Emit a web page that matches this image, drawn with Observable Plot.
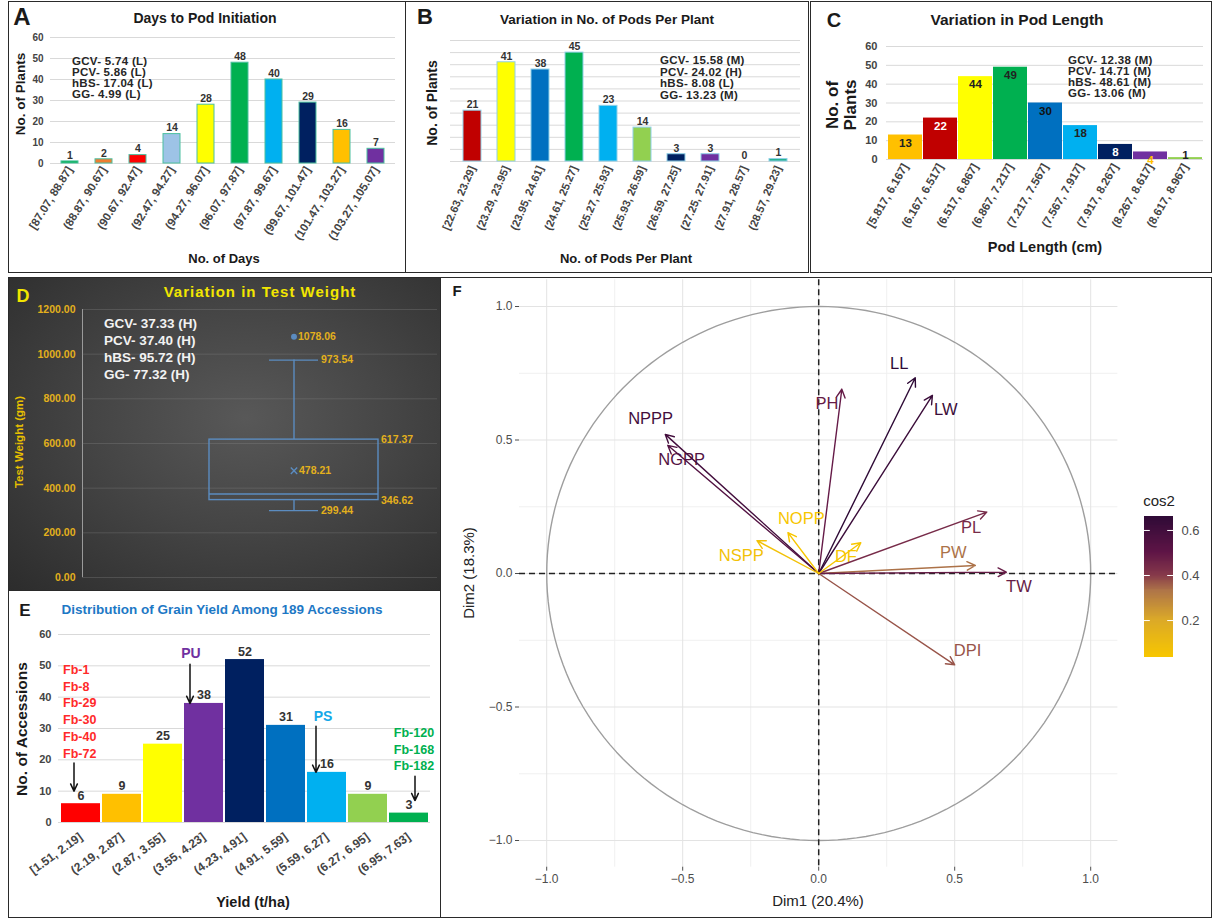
<!DOCTYPE html>
<html><head><meta charset="utf-8">
<script src="https://cdn.jsdelivr.net/npm/d3@7"></script>
<script src="https://cdn.jsdelivr.net/npm/@observablehq/plot@0.6"></script>
<style>
body{margin:0;background:#fff;font-family:"Liberation Sans",Arial,sans-serif;}
#fig{position:relative;width:1213px;height:919px;overflow:hidden;background:#fff;}
.abs{position:absolute;white-space:nowrap;}
.box{position:absolute;box-sizing:border-box;border:1.5px solid #2a2a2a;}
</style></head><body><div id="fig"></div><script>
const FONT = "Liberation Sans, Arial, sans-serif";

// ---------- Panel A data ----------
const aBins = ["[87.07, 88.87]","(88.87, 90.67]","(90.67, 92.47]","(92.47, 94.27]","(94.27, 96.07]","(96.07, 97.87]","(97.87, 99.67]","(99.67, 101.47]","(101.47, 103.27]","(103.27, 105.07]"];
const aCounts = [1,2,4,14,28,48,40,29,16,7];
const aColors = ["#00B050","#ED7D31","#FF0000","#9DC3E6","#FFFF00","#00B050","#00B0F0","#002060","#FFC000","#7030A0"];
const aYTicks = [0,10,20,30,40,50,60];
const aStats = ["GCV- 5.74 (L)","PCV-  5.86 (L)","hBS- 17.04 (L)","GG- 4.99 (L)"];

// ---------- Panel B data ----------
const bBins = ["[22.63, 23.29]","(23.29, 23.95]","(23.95, 24.61]","(24.61, 25.27]","(25.27, 25.93]","(25.93, 26.59]","(26.59, 27.25]","(27.25, 27.91]","(27.91, 28.57]","(28.57, 29.23]"];
const bCounts = [21,41,38,45,23,14,3,3,0,1];
const bColors = ["#C00000","#FFFF00","#0070C0","#00B050","#00B0F0","#92D050","#002060","#7030A0","#FFFFFF","#1FAE8A"];
const bGrid = [0,5,10,15,20,25,30,35,40,45,50];
const bStats = ["GCV- 15.58 (M)","PCV-  24.02 (H)","hBS- 8.08 (L)","GG- 13.23 (M)"];

// ---------- Panel C data ----------
const cBins = ["[5.817, 6.167]","(6.167, 6.517]","(6.517, 6.867]","(6.867, 7.217]","(7.217, 7.567]","(7.567, 7.917]","(7.917, 8.267]","(8.267, 8.617]","(8.617, 8.967]"];
const cCounts = [13,22,44,49,30,18,8,4,1];
const cColors = ["#FFC000","#C00000","#FFFF00","#00B050","#0070C0","#00B0F0","#002060","#7030A0","#92D050"];
const cLabelColors = ["#222","#fff","#222","#222","#111","#222","#fff","#FFC000","#222"];
const cYTicks = [0,10,20,30,40,50,60];
const cStats = ["GCV- 12.38 (M)","PCV-  14.71 (M)","hBS- 48.61 (M)","GG- 13.06 (M)"];

// ---------- Panel D data ----------
const twName = "Test Weight";
const twMin = 299.44, twQ1 = 346.62, twMedian = 374, twQ3 = 617.37, twMax = 973.54, twMean = 478.21;
const twOutliers = [1078.06];
const dYTicks = [0,200,400,600,800,1000,1200];
const dStats = ["GCV- 37.33 (H)","PCV-  37.40 (H)","hBS- 95.72 (H)","GG- 77.32 (H)"];

// ---------- Panel E data ----------
const eBins = ["[1.51, 2.19]","(2.19, 2.87]","(2.87, 3.55]","(3.55, 4.23]","(4.23, 4.91]","(4.91, 5.59]","(5.59, 6.27]","(6.27, 6.95]","(6.95, 7.63]"];
const eCounts = [6,9,25,38,52,31,16,9,3];
const eColors = ["#FF0000","#FFC000","#FFFF00","#7030A0","#002060","#0070C0","#00B0F0","#92D050","#00B050"];
const eYTicks = [0,10,20,30,40,50,60];
const eLowAcc = ["Fb-1","Fb-8","Fb-29","Fb-30","Fb-40","Fb-72"];
const eHighAcc = ["Fb-120","Fb-168","Fb-182"];
const eArrowBins = ["[1.51, 2.19]","(3.55, 4.23]","(5.59, 6.27]","(6.95, 7.63]"];
const eArrowFrom = [19, 50.5, 30.7, 14.8];
const eArrowTo = [10, 38, 16, 7];

// ---------- Panel F data ----------
const fVars = ["NPPP","NGPP","PH","LL","LW","PL","PW","TW","DPI","NOPP","NSPP","DF"];
const fDim1 = [-0.564,-0.555,0.085,0.355,0.418,0.618,0.576,0.690,0.500,-0.113,-0.227,0.155];
const fDim2 = [0.521,0.480,0.690,0.733,0.667,0.230,0.030,0.005,-0.342,0.153,0.123,0.115];
const fLabelDim1 = [-0.618,-0.504,0.030,0.296,0.467,0.560,0.495,0.736,0.547,-0.064,-0.285,0.100];
const fLabelDim2 = [0.578,0.426,0.636,0.785,0.613,0.173,0.077,-0.049,-0.288,0.204,0.066,0.061];
const fMajor = [-1,-0.5,0,0.5,1];
const fMinor = [-0.75,-0.25,0.25,0.75];
const legendTicks = [0.2,0.4,0.6];

// ================= helpers =================
const fig = document.getElementById("fig");
function place(node, left, top, w, h){
  const d = document.createElement("div");
  d.className = "abs";
  Object.assign(d.style,{left:left+"px",top:top+"px",width:w+"px",height:h+"px"});
  d.appendChild(node); fig.appendChild(d); return d;
}
function txt(s, x, y, o={}){
  const d = document.createElement("div");
  d.className = "abs"; d.textContent = s;
  const tx = o.anchor==="start" ? "0" : (o.anchor==="end" ? "-100%" : "-50%");
  Object.assign(d.style,{left:x+"px",top:y+"px",fontSize:(o.size||12)+"px",
    fontWeight:o.weight||"bold",color:o.color||"#1a1a1a",lineHeight:"1",
    letterSpacing:o.ls||"normal",fontFamily:FONT,
    transform:`translate(${tx},-50%)`+(o.rotate?` rotate(${o.rotate}deg)`:"")});
  if (o.rotate) d.style.transformOrigin = "50% 50%";
  fig.appendChild(d); return d;
}
function box(l,t,w,h,extra={}){
  const d=document.createElement("div"); d.className="box";
  Object.assign(d.style,{left:l+"px",top:t+"px",width:w+"px",height:h+"px"},extra);
  fig.appendChild(d); return d;
}
const baseStyle = {background:"transparent",fontFamily:FONT,overflow:"visible"};

// ================= Panel A =================
const aTable = aBins.map((bin,i)=>({bin,count:aCounts[i],color:aColors[i]}));
place(Plot.plot({
  width:397,height:272,marginLeft:42,marginRight:10,marginTop:37,marginBottom:109,
  style:baseStyle,
  x:{domain:aBins,paddingInner:0.5,paddingOuter:0.3,label:null},
  y:{domain:[0,60],label:null},
  color:{type:"identity"},
  marks:[
    Plot.gridY(aYTicks,{stroke:"#d9d9d9",strokeOpacity:1}),
    Plot.barY(aTable,{x:"bin",y:"count",fill:"color",stroke:"#4cc0a0",strokeWidth:1}),
    Plot.text(aTable,{x:"bin",y:"count",text:d=>String(d.count),dy:-6,fontWeight:"bold",fontSize:10.5,fill:"#333"}),
    Plot.axisY(aYTicks,{tickSize:0,tickPadding:7,fontWeight:"bold",fontSize:10,color:"#444",label:null}),
    Plot.axisX({tickSize:0,tickPadding:4,tickRotate:-58,fontWeight:"bold",fontSize:11.5,color:"#444",label:null})
  ]
}),8,0,397,272);
txt("A",22,17,{size:24});
txt("Days to Pod Initiation",205,18,{size:14});
aStats.forEach((s,i)=>txt(s,72,62+i*11,{size:11.5,anchor:"start",color:"#262626",ls:"0.3px"}));
txt("No. of Plants",21,94,{size:13.5,rotate:-90});
txt("No. of Days",224,258,{size:13});

// ================= Panel B =================
const bTable = bBins.map((bin,i)=>({bin,count:bCounts[i],color:bColors[i]}));
place(Plot.plot({
  width:403,height:272,marginLeft:45,marginRight:8,marginTop:40,marginBottom:111,
  style:baseStyle,
  x:{domain:bBins,paddingInner:0.48,paddingOuter:0.27,label:null},
  y:{domain:[0,50],label:null,axis:null},
  color:{type:"identity"},
  marks:[
    Plot.gridY(bGrid,{stroke:"#d9d9d9",strokeOpacity:1}),
    Plot.barY(bTable.filter(d=>d.count>0),{x:"bin",y:"count",fill:"color",stroke:"#8fd0e8",strokeWidth:1}),
    Plot.text(bTable,{x:"bin",y:"count",text:d=>String(d.count),dy:-6,fontWeight:"bold",fontSize:10.5,fill:"#333"}),
    Plot.axisX({tickSize:0,tickPadding:5,tickRotate:-67,fontWeight:"bold",fontSize:11,color:"#444",label:null})
  ]
}),405,0,403,272);
txt("B",425,17,{size:22});
txt("Variation in No. of Pods Per Plant",607,20,{size:13.5});
bStats.forEach((s,i)=>txt(s,660,61+i*11.5,{size:11.5,anchor:"start",color:"#262626",ls:"0.3px"}));
txt("No. of Plants",432,103,{size:14,rotate:-90});
txt("No. of Pods Per Plant",626,258,{size:13});

// ================= Panel C =================
const cTable = cBins.map((bin,i)=>({bin,count:cCounts[i],color:cColors[i],lc:cLabelColors[i]}));
place(Plot.plot({
  width:405,height:272,marginLeft:78,marginRight:10,marginTop:46,marginBottom:113,
  style:baseStyle,
  x:{domain:cBins,paddingInner:0.03,paddingOuter:0,label:null},
  y:{domain:[0,60],label:null},
  color:{type:"identity"},
  marks:[
    Plot.gridY(cYTicks,{stroke:"#d9d9d9",strokeOpacity:1}),
    Plot.barY(cTable,{x:"bin",y:"count",fill:"color"}),
    Plot.text(cTable.filter(d=>d.count>=4),{x:"bin",y:"count",text:d=>String(d.count),dy:8,fontWeight:"bold",fontSize:11.5,fill:"lc"}),
    Plot.text(cTable.filter(d=>d.count<4),{x:"bin",y:"count",text:d=>String(d.count),dy:-2,fontWeight:"bold",fontSize:11.5,fill:"lc"}),
    Plot.axisY(cYTicks,{tickSize:0,tickPadding:9,fontWeight:"bold",fontSize:11,color:"#444",label:null}),
    Plot.axisX({tickSize:0,tickPadding:5,tickRotate:-60,fontWeight:"bold",fontSize:11.5,color:"#444",label:null})
  ]
}),808,0,405,272);
txt("C",834,20,{size:20});
txt("Variation in Pod Length",1017,20,{size:15.5});
cStats.forEach((s,i)=>txt(s,1068,61+i*11,{size:11.5,anchor:"start",color:"#262626",ls:"0.3px"}));
txt("No. of",832,105,{size:17,rotate:-90});
txt("Plants",850,105,{size:17,rotate:-90});
txt("Pod Length (cm)",1045,247,{size:14.5});

// ================= Panel D =================
const dBg = document.createElement("div");
dBg.className="abs";
Object.assign(dBg.style,{left:"8px",top:"277px",width:"432px",height:"313px",
  background:"radial-gradient(ellipse at 55% 45%, #585858 0%, #454545 45%, #2c2c2c 100%)"});
fig.appendChild(dBg);
const axLine=document.createElement("div"); axLine.className="abs";
Object.assign(axLine.style,{left:"82px",top:"309px",width:"1px",height:"268px",background:"#9a9a9a"});
fig.appendChild(axLine);
const BOX="#5b8cc0", GOLD="#E3B01C";
const twStats=[{cat:twName,min:twMin,q1:twQ1,median:twMedian,q3:twQ3,max:twMax,mean:twMean}];
const fmt2=d3.format(".2f");
place(Plot.plot({
  width:432,height:313,marginLeft:74,marginRight:3,marginTop:32,marginBottom:13,
  style:baseStyle,
  x:{domain:[twName],range:[201,370],padding:0,axis:null},
  y:{domain:[0,1200],label:null},
  marks:[
    Plot.gridY(dYTicks,{stroke:"#8a8a8a",strokeOpacity:0.3}),
    Plot.axisY(dYTicks,{tickSize:0,tickPadding:7,tickFormat:fmt2,fontWeight:"bold",fontSize:10.5,color:GOLD,label:null}),
    Plot.ruleX(twStats,{x:"cat",y1:"q3",y2:"max",stroke:BOX,strokeWidth:1.4}),
    Plot.ruleX(twStats,{x:"cat",y1:"min",y2:"q1",stroke:BOX,strokeWidth:1.4}),
    Plot.barY(twStats,{x:"cat",y1:"q1",y2:"q3",fill:"none",stroke:BOX,strokeWidth:1.4}),
    Plot.tickY(twStats,{x:"cat",y:"median",stroke:BOX,strokeWidth:1.4}),
    Plot.tickY(twStats,{x:"cat",y:"max",stroke:BOX,strokeWidth:1.4,insetLeft:60,insetRight:60}),
    Plot.tickY(twStats,{x:"cat",y:"min",stroke:BOX,strokeWidth:1.4,insetLeft:60,insetRight:60}),
    Plot.dot(twStats,{x:"cat",y:"mean",symbol:"times",r:3,stroke:BOX,strokeWidth:1.4}),
    Plot.dot(twOutliers,{x:()=>twName,y:d=>d,r:2.2,stroke:BOX,fill:BOX}),
    Plot.text(twOutliers,{x:()=>twName,y:d=>d,text:d=>fmt2(d),textAnchor:"start",dx:4,fill:GOLD,fontWeight:"bold",fontSize:10.5}),
    Plot.text(twStats,{x:"cat",y:"mean",text:d=>fmt2(d.mean),textAnchor:"start",dx:5,fill:GOLD,fontWeight:"bold",fontSize:10.5}),
    Plot.text(twStats,{x:"cat",y:"max",text:d=>fmt2(d.max),textAnchor:"start",dx:27,fill:GOLD,fontWeight:"bold",fontSize:10.5}),
    Plot.text(twStats,{x:"cat",y:"min",text:d=>fmt2(d.min),textAnchor:"start",dx:27,fill:GOLD,fontWeight:"bold",fontSize:10.5}),
    Plot.text(twStats,{x:"cat",y:"q3",text:d=>fmt2(d.q3),textAnchor:"start",dx:87,fill:GOLD,fontWeight:"bold",fontSize:10.5}),
    Plot.text(twStats,{x:"cat",y:"q1",text:d=>fmt2(d.q1),textAnchor:"start",dx:87,dy:1,fill:GOLD,fontWeight:"bold",fontSize:10.5})
  ]
}),8,277,432,313);
txt("D",23,296,{size:18,color:"#F2E600"});
txt("Variation in Test Weight",260,291,{size:15,color:"#F2E600",ls:"1px"});
dStats.forEach((s,i)=>txt(s,104,324+i*17,{size:13.5,anchor:"start",color:"#f2f2f2"}));
txt("Test Weight (gm)",20,442,{size:11.5,rotate:-90,color:"#E8C000"});

// ================= Panel E =================
const eTable = eBins.map((bin,i)=>({bin,count:eCounts[i],color:eColors[i]}));
const eArrows = eArrowBins.map((bin,i)=>({bin,from:eArrowFrom[i],to:eArrowTo[i]}));
const arrowOpt = {x:"bin",y1:"from",y2:"to",stroke:"#111",strokeWidth:1.5,headLength:8,headAngle:50};
place(Plot.plot({
  width:432,height:329,marginLeft:50,marginRight:10,marginTop:44,marginBottom:97,
  style:baseStyle,
  x:{domain:eBins,paddingInner:0.05,paddingOuter:0,label:null},
  y:{domain:[0,60],label:null},
  color:{type:"identity"},
  marks:[
    Plot.gridY(eYTicks,{stroke:"#d9d9d9",strokeOpacity:1}),
    Plot.barY(eTable,{x:"bin",y:"count",fill:"color"}),
    Plot.text(eTable,{x:"bin",y:"count",text:d=>String(d.count),dy:-8,fontWeight:"bold",fontSize:12.5,fill:"#333"}),
    Plot.arrow([eArrows[0]],{...arrowOpt,dx:-7}),
    Plot.arrow([eArrows[1]],{...arrowOpt,dx:-14}),
    Plot.arrow([eArrows[2]],{...arrowOpt,dx:-11}),
    Plot.arrow([eArrows[3]],{...arrowOpt,dx:6}),
    Plot.axisY(eYTicks,{tickSize:0,tickPadding:7,fontWeight:"bold",fontSize:11,color:"#444",label:null}),
    Plot.axisX({tickSize:0,tickPadding:13,tickRotate:-36,fontWeight:"bold",fontSize:12,color:"#444",label:null})
  ]
}),8,590,432,329);
txt("E",25,610,{size:17});
txt("Distribution of Grain Yield Among 189 Accessions",222,610,{size:13.5,color:"#1D78C5"});
eLowAcc.forEach((s,i)=>txt(s,63,670+i*16.7,{size:12.5,anchor:"start",color:"#FF2A2A"}));
eHighAcc.forEach((s,i)=>txt(s,414,733+i*16.5,{size:12.5,color:"#00B050"}));
txt("PU",191,653,{size:14,color:"#7030A0"});
txt("PS",323,716,{size:14,color:"#14A8E8"});
txt("No. of Accessions",22,729,{size:15.5,rotate:-90});
txt("Yield (t/ha)",253,902,{size:14.5});

// ================= Panel F =================
const fCos2 = fDim1.map((x,i)=>x*x+fDim2[i]*fDim2[i]);
const fTable = fVars.map((v,i)=>({v,x:fDim1[i],y:fDim2[i],lx:fLabelDim1[i],ly:fLabelDim2[i],cos2:fCos2[i]}));
const colorOpt = {type:"linear",domain:[0.036,0.2,0.33,0.4,0.5,0.662],
  range:["#F7C600","#DBA928","#AE7448","#85384A","#5E1446","#2E0A36"],clamp:true};
const circle = d3.range(0,361,2).map(a=>({x:Math.cos(a*Math.PI/180),y:Math.sin(a*Math.PI/180)}));
const fmt1 = d3.format(".1f");
place(Plot.plot({
  width:771,height:642,marginLeft:77,marginRight:95.6,marginTop:2.3,marginBottom:52.3,
  style:baseStyle,
  x:{domain:[-1.1,1.1],label:null},
  y:{domain:[-1.1,1.1],label:null},
  color:colorOpt,
  marks:[
    Plot.gridX(fMinor,{stroke:"#f0f0f0",strokeOpacity:1}),
    Plot.gridY(fMinor,{stroke:"#f0f0f0",strokeOpacity:1}),
    Plot.gridX(fMajor,{stroke:"#e3e3e3",strokeOpacity:1}),
    Plot.gridY(fMajor,{stroke:"#e3e3e3",strokeOpacity:1}),
    Plot.line(circle,{x:"x",y:"y",stroke:"#9e9e9e",strokeWidth:1.4}),
    Plot.ruleX([0],{stroke:"#222",strokeWidth:1.5,strokeDasharray:"6,4"}),
    Plot.ruleY([0],{stroke:"#222",strokeWidth:1.5,strokeDasharray:"6,4"}),
    Plot.text(fTable,{x:"lx",y:"ly",text:"v",fill:"cos2",fontSize:16.5}),
    Plot.arrow(fTable,{x1:0,y1:0,x2:"x",y2:"y",stroke:"cos2",strokeWidth:1.4,headLength:10,headAngle:55}),
    Plot.axisY(fMajor,{tickSize:4,tickPadding:3,tickFormat:fmt1,fontSize:12,color:"#4d4d4d",label:null}),
    Plot.axisX(fMajor,{tickSize:4,tickPadding:3,tickFormat:fmt1,fontSize:12,color:"#4d4d4d",label:null})
  ]
}),442,277,771,642);
txt("F",457,290,{size:15});
txt("Dim1 (20.4%)",818,900,{size:15,weight:"normal",color:"#222"});
txt("Dim2 (18.3%)",468,573,{size:15,weight:"normal",color:"#222",rotate:-90});

// legend
const legendSteps = d3.range(0.036,0.662,0.004);
place(Plot.plot({
  width:80,height:180,margin:0,style:baseStyle,
  x:{domain:[0,1],range:[14,43],axis:null},
  y:{domain:[0.036,0.662],range:[167,26],axis:null},
  color:colorOpt,
  marks:[
    Plot.rect(legendSteps,{x1:0,x2:1,y1:d=>d,y2:d=>Math.min(0.662,d+0.007),fill:d=>d,shapeRendering:"crispEdges"}),
    Plot.ruleY(legendTicks,{x1:0,x2:0.2,stroke:"#fff",strokeWidth:1}),
    Plot.ruleY(legendTicks,{x1:0.8,x2:1,stroke:"#fff",strokeWidth:1}),
    Plot.text(legendTicks,{x:1,y:d=>d,dx:8,textAnchor:"start",text:d=>d.toFixed(1),fontSize:13,fill:"#4d4d4d"})
  ]
}),1130,490,80,180);
txt("cos2",1159,500,{size:15,weight:"normal",color:"#222"});

// panel borders
box(8,1,398,272); box(405,1,404,272); box(810,1,402,272);
box(8,277,433,314); box(8,590,433,328); box(440,277,772,641);
</script></body></html>
